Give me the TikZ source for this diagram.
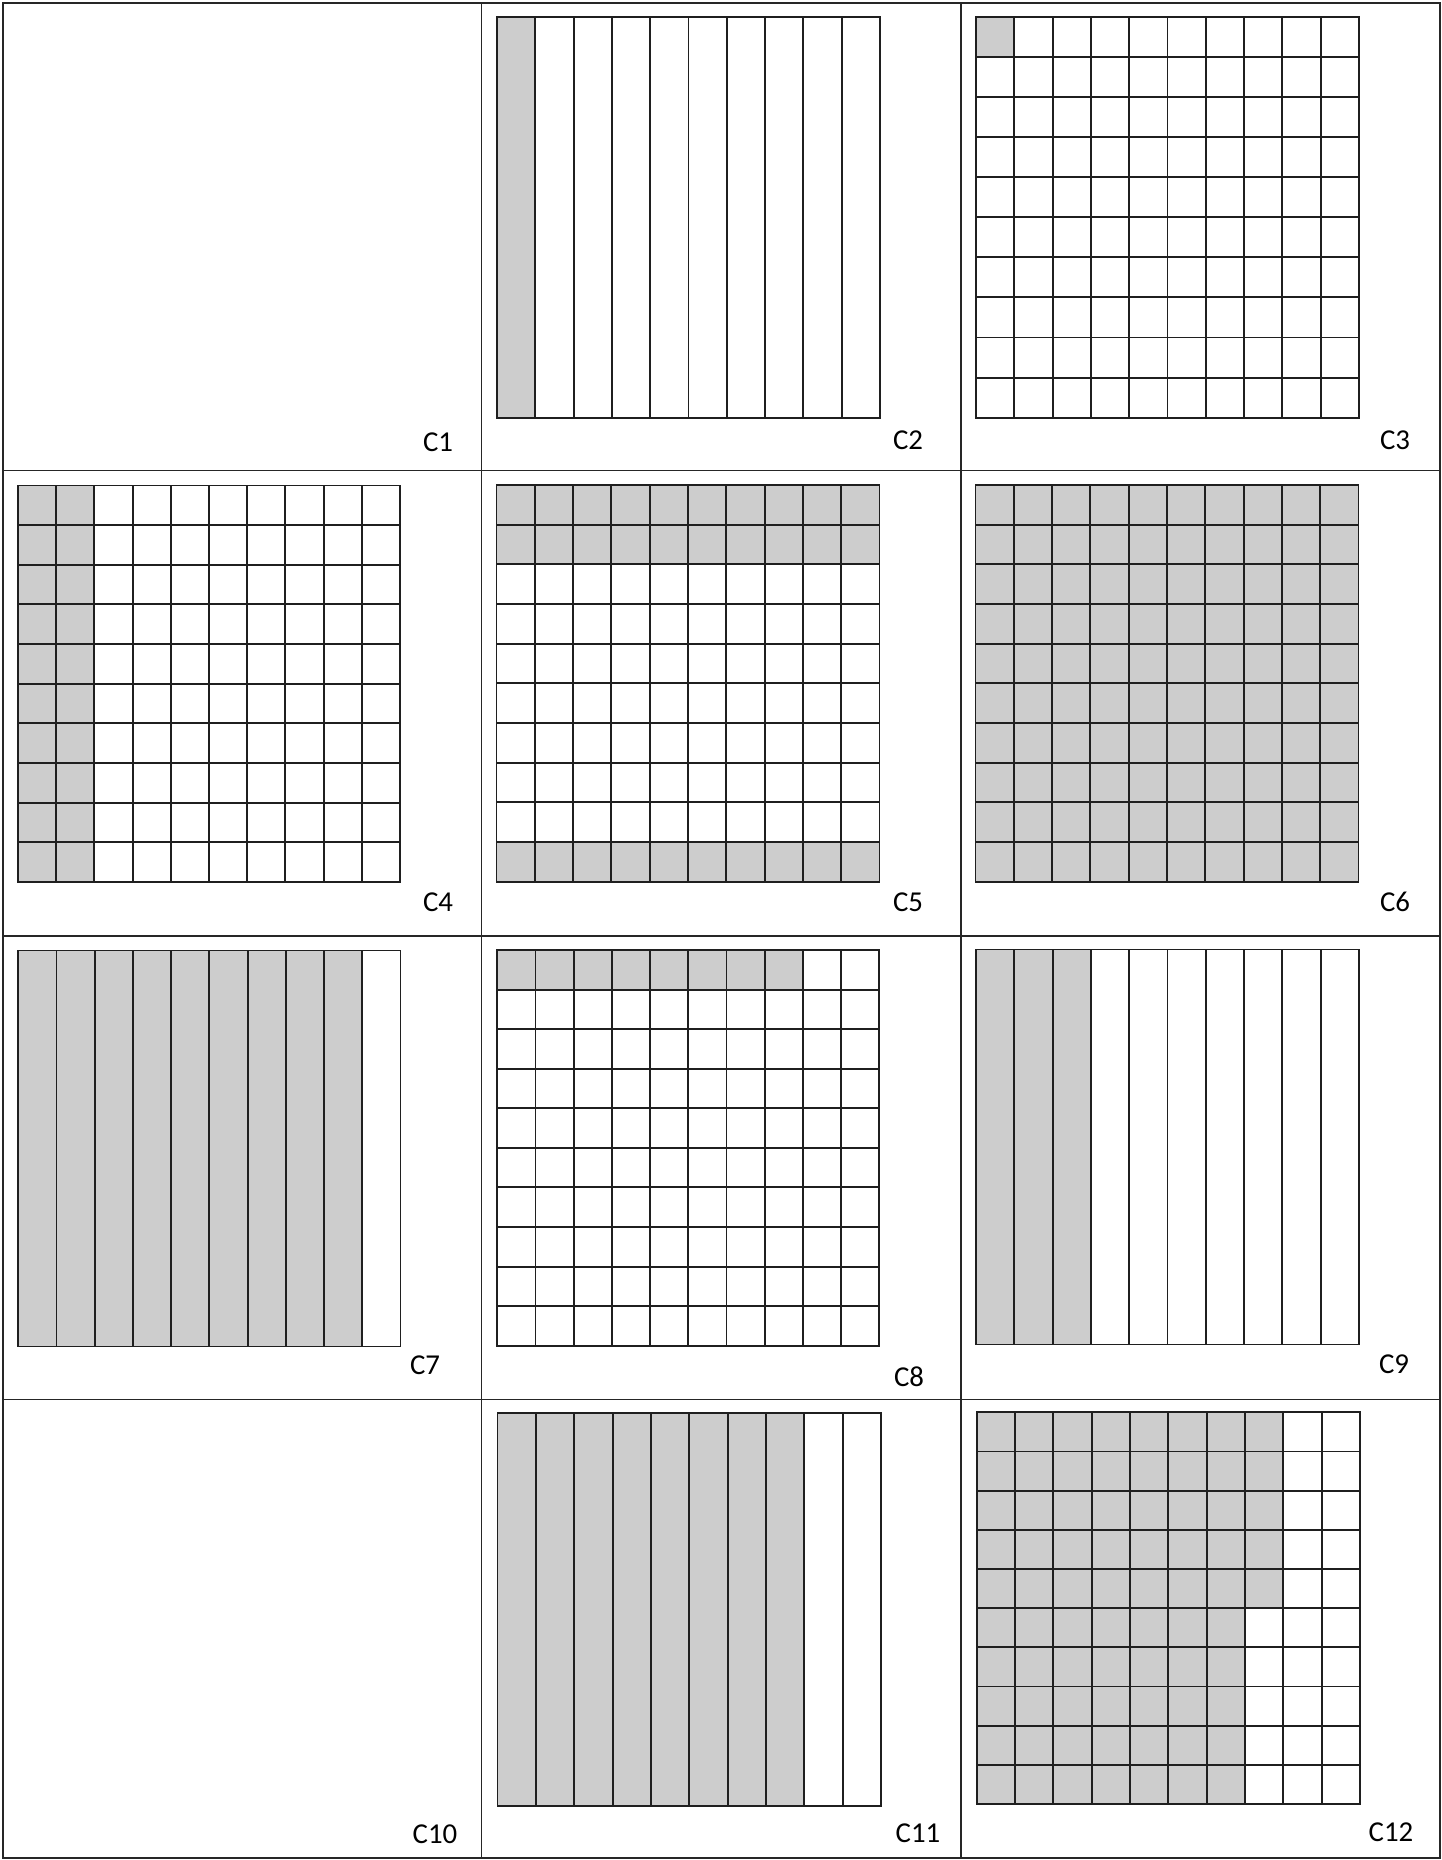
\documentclass[tikz,border=0pt]{standalone}
\usepackage{fontspec}
\setmainfont{Carlito}
\definecolor{shadegray}{RGB}{205,205,205}
\tikzset{
  gridline/.style={line width=0.55pt, draw=black!88},
  tableline/.style={line width=0.45pt, draw=black!85},
  shadecell/.style={fill=shadegray},
  cellabel/.style={inner sep=0pt, font=\fontsize{8.2}{10}\selectfont}
}
% #1 x0, #2 y0, #3 x1, #4 y1, #5 = 1 for horizontal lines too
\newcommand{\mygrid}[5]{%
  \foreach \i in {1,...,9} \draw[gridline] ({#1+(#3-#1)*\i/10},#2) -- ({#1+(#3-#1)*\i/10},#4);
  \ifnum#5=1
    \foreach \i in {1,...,9} \draw[gridline] (#1,{#2+(#4-#2)*\i/10}) -- (#3,{#2+(#4-#2)*\i/10});
  \fi
  \draw[gridline] (#1,#2) rectangle (#3,#4);
}
% #1..#4 grid box, #5 col start, #6 col end, #7 row start, #8 row end
\newcommand{\myshade}[8]{%
  \fill[shadecell] ({#1+(#3-#1)*#5/10},{#2+(#4-#2)*#7/10}) rectangle ({#1+(#3-#1)*#6/10},{#2+(#4-#2)*#8/10});
}
\begin{document}
\begin{tikzpicture}[x=0.01cm, y=-0.01cm]
\useasboundingbox (0,0) rectangle (1442,1860);
\fill[white] (0,0) rectangle (1442,1860);
% table
\draw[tableline] (3,3) rectangle (1440,1858);
\draw[tableline] (481.5,3) -- (481.5,1858);
\draw[tableline] (961,3) -- (961,1858);
\draw[tableline] (3,470.7) -- (1440,470.7);
\draw[tableline] (3,936) -- (1440,936);
\draw[tableline] (3,1399.5) -- (1440,1399.5);
% C2
\myshade{497}{16.7}{880}{417.7}{0}{1}{0}{10}
\mygrid{497}{16.7}{880}{417.7}{0}
% C3
\myshade{976}{16.7}{1359}{417.7}{0}{1}{0}{1}
\mygrid{976}{16.7}{1359}{417.7}{1}
% C4
\myshade{18}{485.5}{400}{882}{0}{2}{0}{10}
\mygrid{18}{485.5}{400}{882}{1}
% C5
\myshade{496.5}{485}{879.5}{881.7}{0}{10}{0}{2}
\myshade{496.5}{485}{879.5}{881.7}{0}{10}{9}{10}
\mygrid{496.5}{485}{879.5}{881.7}{1}
% C6
\myshade{975.5}{485}{1358.5}{881.7}{0}{10}{0}{10}
\mygrid{975.5}{485}{1358.5}{881.7}{1}
% C7
\myshade{18.3}{950.5}{400.5}{1346.5}{0}{9}{0}{10}
\mygrid{18.3}{950.5}{400.5}{1346.5}{0}
% C8
\myshade{497.3}{950}{879.3}{1345.7}{0}{8}{0}{1}
\mygrid{497.3}{950}{879.3}{1345.7}{1}
% C9
\myshade{976}{949.5}{1359}{1344.5}{0}{3}{0}{10}
\mygrid{976}{949.5}{1359}{1344.5}{0}
% C11
\myshade{497.5}{1412.7}{881}{1805.7}{0}{8}{0}{10}
\mygrid{497.5}{1412.7}{881}{1805.7}{0}
% C12
\myshade{976.7}{1412.3}{1360}{1804}{0}{8}{0}{5}
\myshade{976.7}{1412.3}{1360}{1804}{0}{7}{5}{10}
\mygrid{976.7}{1412.3}{1360}{1804}{1}
% labels
\node[cellabel] (c1) at (438,442) {C1};
\node[cellabel] (c2) at (908,440) {C2};
\node[cellabel] (c3) at (1395,440) {C3};
\node[cellabel] (c4) at (438,902) {C4};
\node[cellabel] (c5) at (908,902) {C5};
\node[cellabel] (c6) at (1395,902) {C6};
\node[cellabel] (c7) at (425,1365) {C7};
\node[cellabel] (c8) at (909,1377) {C8};
\node[cellabel] (c9) at (1394,1364) {C9};
\node[cellabel] (c10) at (435,1834) {C10};
\node[cellabel] (c11) at (918,1833) {C11};
\node[cellabel] (c12) at (1391,1832) {C12};
\end{tikzpicture}
\end{document}
